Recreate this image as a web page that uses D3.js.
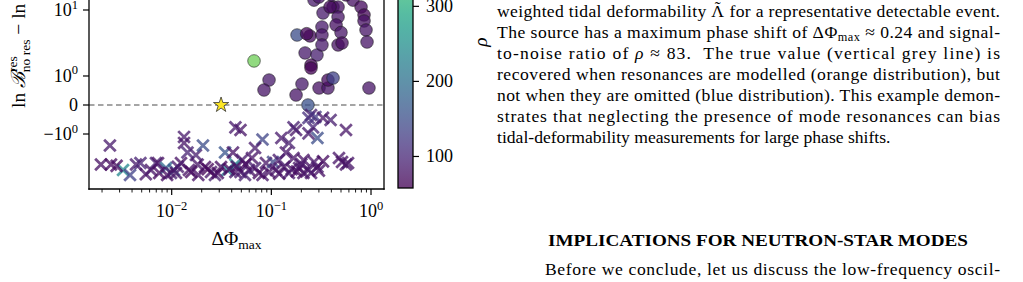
<!DOCTYPE html>
<html><head><meta charset="utf-8">
<script src="https://cdn.jsdelivr.net/npm/d3@7"></script>
<style>
html,body{margin:0;padding:0;background:#fff;}
svg{display:block;}
text{font-family:"Liberation Serif","Times New Roman",serif;fill:#000;white-space:pre;}
</style></head><body>
<svg id="fig" width="1023" height="282"></svg>
<script>
// ---------------- data ----------------
// resonances detected (circles): max phase shift, ln Bayes factor, SNR rho
const circPhi = [0.067,0.0948,0.0844,0.181,0.244,0.218,0.287,0.250,0.250,0.203,0.177,0.233,0.301,0.370,0.370,0.416,0.954,0.322,0.322,0.322,0.330,0.416,0.467,0.467,0.446,0.500,0.467,0.512,0.660,0.794,0.851,0.851,0.891,0.912,0.268,0.388,0.226,0.40,0.56,0.30];
const circLnB = [1.92,0.81,0.42,4.70,4.56,2.58,2.40,1.63,1.44,0.64,0.26,0.0,0.49,0.49,0.81,0.90,0.49,6.03,4.70,3.40,9.16,10.9,10.9,8.14,6.41,5.09,3.40,3.63,13.3,10.9,8.64,7.23,5.50,3.75,13.3,10.9,4.9,15.4,15.4,14.5];
const circRho = [361,85,80,150,70,85,90,65,60,85,80,155,75,80,70,135,80,85,80,85,85,70,75,80,75,80,75,70,75,70,65,75,80,80,85,70,65,80,70,80];
// resonances not detected (crosses)
const crossPhi = [0.0024,0.00195,0.00246,0.00325,0.00382,0.00439,0.00486,0.00619,0.00695,0.00729,0.00877,0.01054,0.00984,0.01104,0.0133,0.0133,0.0144,0.0124,0.0175,0.0206,0.0182,0.0149,0.0216,0.0248,0.0272,0.0343,0.0363,0.0436,0.0412,0.0436,0.0313,0.0490,0.0508,0.0597,0.250,0.277,0.330,0.393,0.236,0.262,0.177,0.290,0.236,0.561,0.126,0.150,0.0815,0.0686,0.140,0.167,0.210,0.268,0.290,0.477,0.561,0.512,0.588,0.0436,0.0490,0.0640,0.0686,0.0883,0.104,0.111,0.134,0.150,0.190,0.210,0.236,0.0544,0.0815,0.0948,0.119,0.167,0.0157,0.0185,0.0230,0.0290,0.0380,0.0450,0.0550,0.0750,0.120,0.160,0.180,0.200,0.250,0.0075,0.0055,0.0028,0.0115,0.0090,0.300,0.330];
const crossLnB = [-1.67,-3.34,-3.34,-4.01,-4.70,-3.34,-3.17,-4.01,-3.17,-3.17,-3.75,-4.01,-4.41,-4.41,-1.15,-1.50,-2.19,-3.17,-2.40,-1.67,-3.34,-4.01,-3.63,-4.27,-4.70,-2.19,-4.01,-0.70,-2.19,-4.27,-3.63,-0.81,-2.86,-4.01,-0.26,-0.32,-0.35,-0.42,-0.35,-0.70,-0.81,-1.21,-0.97,-0.81,-1.21,-1.50,-1.29,-1.84,-2.19,-2.67,-2.86,-3.07,-3.63,-2.67,-3.34,-3.07,-3.17,-3.34,-4.27,-2.67,-3.75,-3.17,-3.07,-4.01,-3.63,-4.41,-3.75,-4.41,-4.01,-4.70,-4.70,-4.27,-2.86,-0.70,-4.27,-4.70,-3.90,-4.41,-3.90,-3.60,-3.30,-4.40,-4.50,-3.90,-4.20,-3.30,-4.40,-4.40,-4.60,-3.50,-3.60,-4.70,-4.10,-3.00];
const crossRho = [85,75,70,240,135,85,95,80,90,75,190,165,90,80,85,80,95,75,90,150,80,75,70,80,90,160,220,85,75,80,70,80,85,75,90,125,80,90,110,100,80,150,85,80,85,90,140,85,80,80,75,80,85,80,80,75,80,230,85,80,90,80,140,80,75,85,80,75,80,90,80,75,85,90,70,75,65,70,70,75,70,70,75,80,70,80,80,70,80,70,85,75,75,70];
// representative event (star)
const starPhi = [0.0313];
const starLnB = [0.0];
// axis ticks
const xTickValues = [0.01, 0.1, 1];
const xTickExps = ["\u22122", "\u22121", "0"];
const yTickValues = [10, 1, 0, -1];
const yTickBase = ["10", "10", "0", "\u221210"];
const yTickExps = ["1", "0", "", "0"];
const cbTickValues = [100, 200, 300];
const rhoRange = [58, 447];

// ---------------- scales ----------------
const svg = d3.select("#fig");
const x = d3.scaleLog().domain([0.00148, 1.35]).range([89, 384]);
const y = d3.scaleSymlog().constant(0.85).domain([-7.23, 40.6]).range([189, -40]);
const color = d3.scaleSequential(d3.interpolateViridis).domain(rhoRange);
const cb = d3.scaleLinear().domain(rhoRange).range([188, -104]);
const ALPHA = 0.76;

svg.append("clipPath").attr("id", "plotclip").append("rect")
  .attr("x", x.range()[0]).attr("y", -60).attr("width", x.range()[1] - x.range()[0]).attr("height", 249);
const plot = svg.append("g").attr("clip-path", "url(#plotclip)");

// zero dashed line
plot.append("line").attr("x1", x.range()[0]).attr("x2", x.range()[1])
  .attr("y1", y(0)).attr("y2", y(0))
  .attr("stroke", "#888").attr("stroke-width", 1.3).attr("stroke-dasharray", "5.5,3.5");

// circles
plot.append("g").selectAll("circle").data(circPhi.map((p, i) => [p, circLnB[i], circRho[i]]))
  .join("circle")
  .attr("cx", d => x(d[0])).attr("cy", d => y(d[1])).attr("r", 6.3)
  .attr("fill", d => color(d[2])).attr("fill-opacity", ALPHA)
  .attr("stroke", "#1a1a1a").attr("stroke-opacity", 0.7).attr("stroke-width", 0.8);

// crosses
const s = 5.8;
plot.append("g").selectAll("path").data(crossPhi.map((p, i) => [p, crossLnB[i], crossRho[i]]))
  .join("path")
  .attr("transform", d => `translate(${x(d[0])},${y(d[1])})`)
  .attr("d", `M${-s},${-s}L${s},${s}M${-s},${s}L${s},${-s}`)
  .attr("stroke", d => color(d[2])).attr("stroke-opacity", ALPHA)
  .attr("stroke-width", 2.8).attr("fill", "none");

// star
plot.append("g").selectAll("path").data(starPhi.map((p, i) => [p, starLnB[i]]))
  .join("path")
  .attr("transform", d => `translate(${x(d[0])},${y(d[1])})`)
  .attr("d", d3.symbol(d3.symbolStar).size(72)())
  .attr("fill", "#fde725").attr("stroke", "#333").attr("stroke-width", 0.8);

// frame
const ax = svg.append("g").attr("stroke", "#000").attr("stroke-width", 1.3).attr("fill", "none");
ax.append("line").attr("x1", 89).attr("x2", 89).attr("y1", -60).attr("y2", 189.65);
ax.append("line").attr("x1", 384).attr("x2", 384).attr("y1", -60).attr("y2", 189.65);
ax.append("line").attr("x1", 88.35).attr("x2", 384.65).attr("y1", 189).attr("y2", 189);

// x ticks
const minor = [];
for (let d = -3; d <= 0; d++) for (let k = 2; k <= 9; k++) {
  const v = k * Math.pow(10, d);
  if (v > x.domain()[0] && v < x.domain()[1]) minor.push(v);
}
svg.append("g").selectAll("line").data(minor).join("line")
  .attr("x1", d => x(d)).attr("x2", d => x(d)).attr("y1", 189).attr("y2", 192.5)
  .attr("stroke", "#000").attr("stroke-width", 0.9);
svg.append("g").selectAll("line").data(xTickValues).join("line")
  .attr("x1", d => x(d)).attr("x2", d => x(d)).attr("y1", 189).attr("y2", 195)
  .attr("stroke", "#000").attr("stroke-width", 1.2);
const xl = svg.append("g").selectAll("text").data(xTickValues).join("text")
  .attr("x", d => x(d)).attr("y", 217).attr("text-anchor", "middle").attr("font-size", 18);
xl.append("tspan").text("10");
xl.append("tspan").attr("font-size", 12.5).attr("dy", -7.5).text((d, i) => xTickExps[i]);

// y ticks
svg.append("g").selectAll("line").data(yTickValues).join("line")
  .attr("x1", 83).attr("x2", 89).attr("y1", d => y(d)).attr("y2", d => y(d))
  .attr("stroke", "#000").attr("stroke-width", 1.2);
const yl = svg.append("g").selectAll("text").data(yTickValues).join("text")
  .attr("x", 78).attr("y", d => y(d) + 6).attr("text-anchor", "end").attr("font-size", 18);
yl.append("tspan").text((d, i) => yTickBase[i]);
yl.append("tspan").attr("font-size", 12.5).attr("dy", -7.5).text((d, i) => yTickExps[i]);

// axis labels
const xlab = svg.append("text").attr("x", 236.5).attr("y", 245).attr("text-anchor", "middle").attr("font-size", 19.5);
xlab.append("tspan").text("\u0394\u03a6");
xlab.append("tspan").attr("font-size", 13.5).attr("dy", 4).text("max");

const ylab = svg.append("text").attr("transform", "translate(25,108) rotate(-90)").attr("font-size", 19.5);
ylab.append("tspan").text("ln ");
ylab.append("tspan").attr("font-style", "italic").text("\u212c");
ylab.append("tspan").attr("font-size", 13.5).attr("dy", -8).text("res");
ylab.append("tspan").attr("font-size", 13.5).attr("dx", -16).attr("dy", 13).text("no res");
ylab.append("tspan").attr("dy", -5).text(" \u2212 ln ");
ylab.append("tspan").attr("font-style", "italic").text("\u212c");
ylab.append("tspan").attr("font-size", 13.5).attr("dy", -8).text("no res");

// colorbar
const grad = svg.append("defs").append("linearGradient").attr("id", "vir")
  .attr("x1", 0).attr("y1", 1).attr("x2", 0).attr("y2", 0);
d3.range(0, 1.0001, 0.05).forEach(t => grad.append("stop").attr("offset", t).attr("stop-color", d3.interpolateViridis(t)));
svg.append("rect").attr("x", 398).attr("y", cb(rhoRange[1])).attr("width", 15)
  .attr("height", cb(rhoRange[0]) - cb(rhoRange[1])).attr("fill", "url(#vir)").attr("opacity", ALPHA);
svg.append("rect").attr("x", 398).attr("y", cb(rhoRange[1])).attr("width", 15)
  .attr("height", cb(rhoRange[0]) - cb(rhoRange[1])).attr("fill", "none").attr("stroke", "#000").attr("stroke-width", 1.3);
svg.append("g").selectAll("line").data(cbTickValues).join("line")
  .attr("x1", 413).attr("x2", 419).attr("y1", d => cb(d)).attr("y2", d => cb(d))
  .attr("stroke", "#000").attr("stroke-width", 1.2);
svg.append("g").selectAll("text").data(cbTickValues).join("text")
  .attr("x", 426).attr("y", d => cb(d) + 6).attr("font-size", 18).text(d => d);
svg.append("text").attr("transform", `translate(487,${(cb(rhoRange[0]) + cb(rhoRange[1])) / 2}) rotate(-90)`)
  .attr("text-anchor", "middle").attr("font-size", 19.5).attr("font-style", "italic").text("\u03c1");

// ---------------- body text ----------------
const FS = 17.6;
const bodyLines = [
  [[{t: "weighted tidal deformability "}, {t: "\u039b"}, {t: "\u02dc", tilde: true}, {t: " for a representative detectable event.", after: true}], 17, true, 497],
  [[{t: "The source has a maximum phase shift of \u0394\u03a6"}, {t: "max", sub: true}, {t: " \u2248 0.24 and signal-", up: 3}], 38, true, 497],
  [[{t: "to-noise ratio of "}, {t: "\u03c1", it: true}, {t: " \u2248 83.  The true value (vertical grey line) is"}], 59, true, 497],
  [[{t: "recovered when resonances are modelled (orange distribution), but"}], 80, true, 497],
  [[{t: "not when they are omitted (blue distribution). This example demon-"}], 101, true, 497],
  [[{t: "strates that neglecting the presence of mode resonances can bias"}], 122, true, 497],
  [[{t: "tidal-deformability measurements for large phase shifts."}], 143, false, 497],
  [[{t: "Before we conclude, let us discuss the low-frequency oscil-"}], 275, true, 545]
];
bodyLines.forEach(([segs, yy, just, x0]) => {
  const t = svg.append("text").attr("x", x0).attr("y", yy).attr("font-size", FS);
  segs.forEach(sg => {
    const ts = t.append("tspan").text(sg.t);
    if (sg.sub) ts.attr("font-size", FS * 0.7).attr("dy", 3);
    if (sg.up) ts.attr("dy", -sg.up);
    if (sg.it) ts.attr("font-style", "italic");
    if (sg.tilde) ts.attr("dx", -FS * 0.55).attr("dy", -4);
    if (sg.after) ts.attr("dx", FS * 0.22).attr("dy", 4);
  });
  if (just) t.attr("textLength", 1000 - x0).attr("lengthAdjust", "spacing");
});
svg.append("text").attr("x", 758).attr("y", 246).attr("text-anchor", "middle")
  .attr("font-size", 17.6).attr("font-weight", "bold")
  .attr("textLength", 420).attr("lengthAdjust", "spacingAndGlyphs")
  .text("IMPLICATIONS FOR NEUTRON-STAR MODES");
</script>
</body></html>
